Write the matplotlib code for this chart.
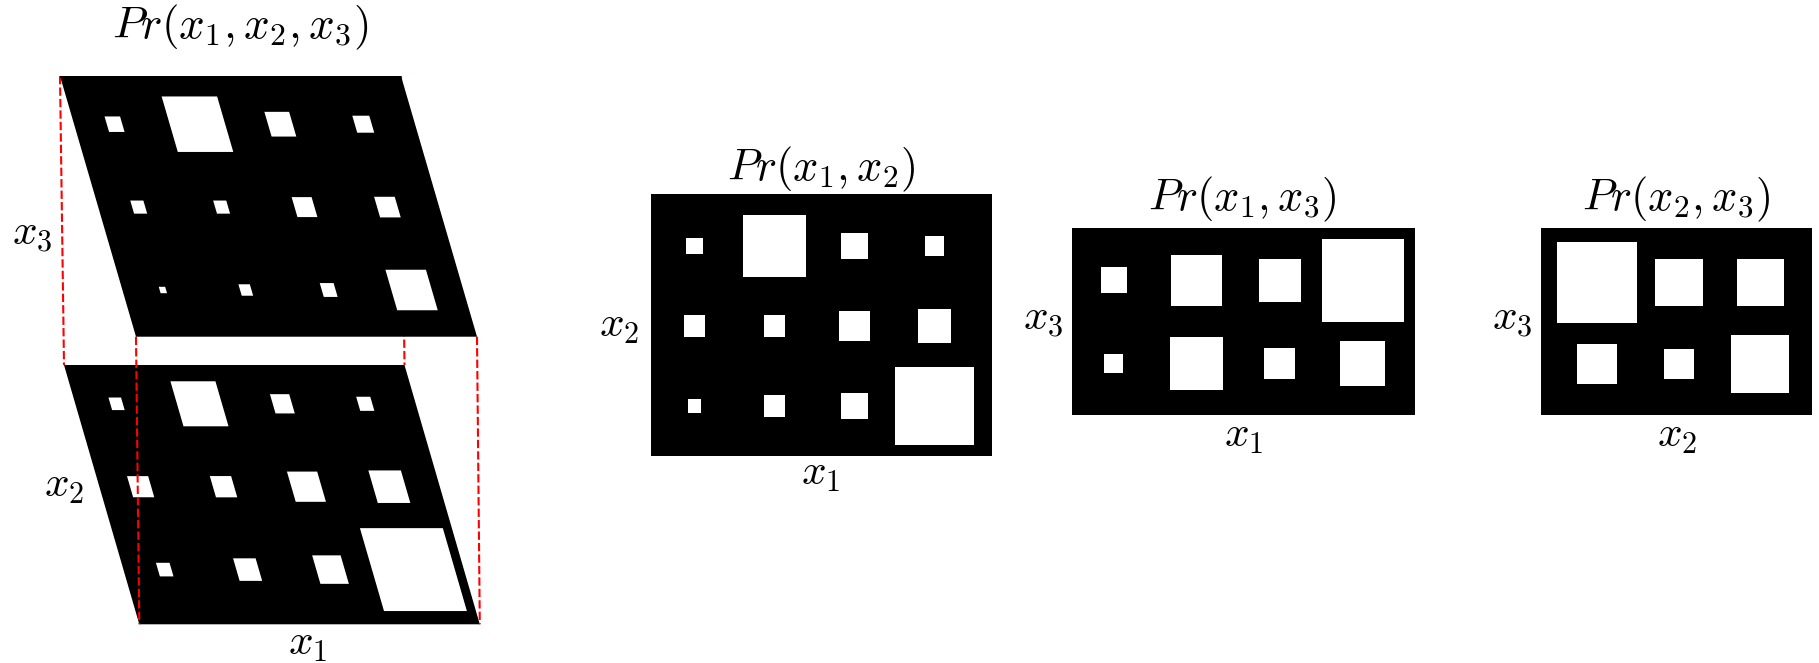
import numpy as np
import matplotlib.pyplot as plt
from matplotlib.patches import Rectangle
from matplotlib.transforms import Affine2D

plt.rcParams['mathtext.fontset'] = 'cm'

# Hinton-style values: share of a grid cell covered by each white square
cube_top = [[0.035, 0.448, 0.089, 0.042],
            [0.025, 0.025, 0.058, 0.062],
            [0.006, 0.019, 0.028, 0.239]]
cube_bottom = [[0.023, 0.295, 0.054, 0.029],
               [0.065, 0.066, 0.133, 0.154],
               [0.027, 0.074, 0.118, 1.000]]
p_x1_x2 = [[0.045, 0.601, 0.108, 0.059],
           [0.069, 0.069, 0.150, 0.177],
           [0.028, 0.069, 0.111, 0.975]]
p_x1_x3 = [[0.098, 0.370, 0.260, 0.983],
           [0.052, 0.408, 0.142, 0.291]]
p_x2_x3 = [[0.971, 0.343, 0.328],
           [0.235, 0.138, 0.503]]

titles = [r'$Pr(x_1, x_2, x_3)$', r'$Pr(x_1, x_2)$', r'$Pr(x_1, x_3)$', r'$Pr(x_2, x_3)$']


def face(ax, vals, x0, y0, w, h, pitch, cx0, cy0, shear=0.0, z=1):
    local = Affine2D(np.array([[1.0, shear, x0], [0.0, 1.0, y0], [0.0, 0.0, 1.0]]))
    tr = local + ax.transData
    ax.add_patch(Rectangle((0, 0), w, h, fc='black', ec='none', transform=tr, zorder=z))
    for r, row in enumerate(vals):
        for c, v in enumerate(row):
            s = pitch * np.sqrt(v)
            ax.add_patch(Rectangle((cx0 + c * pitch - s / 2, cy0 + r * pitch - s / 2), s, s,
                                   fc='white', ec='none', transform=tr, zorder=z))
    # corners: top-left, top-right, bottom-left, bottom-right
    return local.transform([[0, 0], [w, 0], [0, h], [w, h]])


fig = plt.figure(figsize=(18.19, 6.63), dpi=100)
ax = fig.add_axes([0, 0, 1, 1])
ax.set_xlim(0, 1819)
ax.set_ylim(663, 0)
ax.axis('off')

# joint distribution drawn as two stacked sheared faces
lo = face(ax, cube_bottom, 64, 365, 340.5, 259.3, 82.9, 41.3, 38.8, shear=75.3 / 259.3, z=1)
hi = face(ax, cube_top, 60, 76, 341, 260.7, 82.9, 40.5, 48.2, shear=76 / 260.7, z=3)
for a, b in zip(hi, lo):
    ax.plot([a[0], b[0]], [a[1], b[1]], color='red', lw=1.5, ls=(0, (4, 1.5)), zorder=2)

# pairwise marginals
face(ax, p_x1_x2, 651, 194, 341, 262, 80, 43.5, 52)
face(ax, p_x1_x3, 1072, 228, 343, 187, 83, 41.7, 52.4)
face(ax, p_x2_x3, 1541, 228, 271, 187, 81.5, 56.2, 54.5)

ax.text(240, 38, titles[0], fontsize=32.5, ha='center', va='baseline')
ax.text(821, 180, titles[1], fontsize=32, ha='center', va='baseline')
ax.text(1242.5, 210, titles[2], fontsize=32, ha='center', va='baseline')
ax.text(1676.5, 210, titles[3], fontsize=32, ha='center', va='baseline')

labels = [(32, 245, r'$x_3$'), (64, 497, r'$x_2$'), (308, 655, r'$x_1$'),
          (619, 337, r'$x_2$'), (821, 485, r'$x_1$'),
          (1043, 330, r'$x_3$'), (1244, 447, r'$x_1$'),
          (1512, 330, r'$x_3$'), (1677, 447, r'$x_2$')]
for x, y, s in labels:
    ax.text(x, y, s, fontsize=31, ha='center', va='baseline')

fig.savefig('out.png', dpi=100)
